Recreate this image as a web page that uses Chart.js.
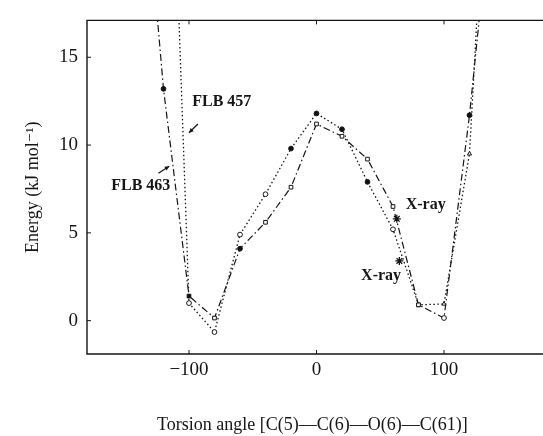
<!DOCTYPE html>
<html>
<head>
<meta charset="utf-8">
<script src="https://cdn.jsdelivr.net/npm/chart.js@4.4.0/dist/chart.umd.min.js"></script>
<style>
  html, body { margin: 0; padding: 0; background: #fff; overflow: hidden; }
  canvas { display: block; }
</style>
</head>
<body>
<canvas id="energyChart" width="543" height="436"></canvas>
<script>
// torsion angle steps (degrees)
const angles = [-140, -120, -100, -80, -60, -40, -20, 0, 20, 40, 60, 80, 100, 120, 140];
// energies in kJ/mol, null where the curve has no point
const flb457 = [null, 42, 1.0, -0.65, 4.9, 7.2, 9.8, 11.8, 10.9, 7.9, 5.2, 0.9, 0.95, 9.5, 36];
const flb463 = [30, 13.2, 1.4, 0.15, 4.1, 5.6, 7.6, 11.2, 10.5, 9.2, 6.5, 0.9, 0.15, 11.7, 26];
// X-ray structures
const xrayAngles = [63, 65];
const xrayEnergy = [5.8, 3.4];
const xTicks = [-100, 0, 100];
const yTicks = [0, 5, 10, 15];

// marker kinds per point: '' none, 'o' open circle, '.' filled circle, 's' open square, 'S' filled square, 't' open triangle
const markers457 = ['', '', 'o', 'o', 'o', 'o', '.', '.', '.', '.', 'o', 's', 't', 't', ''];
const markers463 = ['', '.', 'S', 's', '.', 's', 's', 's', 's', 's', 's', 's', 'o', '.', ''];

const notes = [
    { text: 'FLB 457', x: -97.5, y: 12.45 },
    { text: 'FLB 463', x: -161, y: 7.65 },
    { text: 'X-ray', x: 70, y: 6.6 },
    { text: 'X-ray', x: 35, y: 2.55 }
];
const arrows = [
    { from: [-93, 11.2], to: [-100, 10.7] },
    { from: [-124, 8.4], to: [-115.5, 8.8] }
];

function toPoints(ys) {
    const pts = [];
    ys.forEach((y, i) => {
        if (y !== null) pts.push({ x: angles[i], y: y, m: i });
    });
    return pts;
}

function markerStyle(list) {
    return {
        pointStyle: ctx => {
            const m = list[ctx.raw ? ctx.raw.m : 0];
            if (m === 's' || m === 'S') return 'rect';
            if (m === 't') return 'triangle';
            return 'circle';
        },
        pointRadius: ctx => {
            const m = list[ctx.raw ? ctx.raw.m : 0];
            if (!m) return 0;
            return m === 's' || m === 'S' ? 2.6 : 2.4;
        },
        pointBackgroundColor: ctx => {
            const m = list[ctx.raw ? ctx.raw.m : 0];
            return (m === '.' || m === 'S') ? '#111' : '#fff';
        }
    };
}

const ink = '#151515';
const serif = '"Liberation Serif", "DejaVu Serif", serif';

const framePlugin = {
    id: 'frame',
    afterDatasetsDraw(chart) {
        const { ctx, chartArea: a, scales } = chart;
        ctx.save();
        ctx.strokeStyle = ink;
        ctx.lineWidth = 1.4;
        ctx.beginPath();
        ctx.moveTo(chart.width, a.top);
        ctx.lineTo(a.left, a.top);
        ctx.lineTo(a.left, a.bottom);
        ctx.lineTo(chart.width, a.bottom);
        ctx.stroke();

        // small inward tick marks
        ctx.lineWidth = 1;
        ctx.beginPath();
        xTicks.forEach(v => {
            const px = scales.x.getPixelForValue(v);
            ctx.moveTo(px, a.bottom);
            ctx.lineTo(px, a.bottom - 4);
            ctx.moveTo(px, a.top);
            ctx.lineTo(px, a.top + 4);
        });
        yTicks.forEach(v => {
            const py = scales.y.getPixelForValue(v);
            ctx.moveTo(a.left, py);
            ctx.lineTo(a.left + 4, py);
        });
        ctx.stroke();

        // labels
        ctx.fillStyle = ink;
        ctx.font = 'bold 16px ' + serif;
        ctx.textBaseline = 'middle';
        ctx.textAlign = 'left';
        notes.forEach(n => {
            ctx.fillText(n.text, scales.x.getPixelForValue(n.x), scales.y.getPixelForValue(n.y));
        });

        // arrows
        ctx.lineWidth = 1.2;
        arrows.forEach(ar => {
            const x1 = scales.x.getPixelForValue(ar.from[0]);
            const y1 = scales.y.getPixelForValue(ar.from[1]);
            const x2 = scales.x.getPixelForValue(ar.to[0]);
            const y2 = scales.y.getPixelForValue(ar.to[1]);
            const ang = Math.atan2(y2 - y1, x2 - x1);
            ctx.beginPath();
            ctx.moveTo(x1, y1);
            ctx.lineTo(x2, y2);
            ctx.stroke();
            ctx.beginPath();
            ctx.moveTo(x2, y2);
            ctx.lineTo(x2 - 5 * Math.cos(ang - 0.45), y2 - 5 * Math.sin(ang - 0.45));
            ctx.lineTo(x2 - 5 * Math.cos(ang + 0.45), y2 - 5 * Math.sin(ang + 0.45));
            ctx.closePath();
            ctx.fill();
        });
        ctx.restore();
    }
};

new Chart(document.getElementById('energyChart').getContext('2d'), {
    type: 'line',
    data: {
        datasets: [
            Object.assign({
                label: 'FLB 457',
                data: toPoints(flb457),
                borderColor: ink,
                borderWidth: 1.3,
                borderDash: [1.5, 2.5],
                pointBorderColor: ink,
                pointBorderWidth: 1,
                tension: 0
            }, markerStyle(markers457)),
            Object.assign({
                label: 'FLB 463',
                data: toPoints(flb463),
                borderColor: ink,
                borderWidth: 1.2,
                borderDash: [7, 3, 1.5, 3],
                pointBorderColor: ink,
                pointBorderWidth: 1,
                tension: 0
            }, markerStyle(markers463)),
            {
                label: 'X-ray',
                data: xrayAngles.map((a, i) => ({ x: a, y: xrayEnergy[i] })),
                showLine: false,
                pointStyle: 'star',
                pointRadius: 4,
                pointBorderWidth: 1.3,
                pointBorderColor: ink,
                pointBackgroundColor: ink
            }
        ]
    },
    options: {
        responsive: false,
        animation: false,
        layout: { padding: { top: 12, right: 0, bottom: 0, left: 0 } },
        plugins: {
            legend: { display: false },
            tooltip: { enabled: false }
        },
        scales: {
            x: {
                type: 'linear',
                min: -180,
                max: 173.5,
                grid: { display: false, drawTicks: false },
                border: { display: false },
                afterBuildTicks: scale => { scale.ticks = xTicks.map(v => ({ value: v })); },
                afterFit: scale => { scale.height = 82; },
                ticks: {
                    color: ink,
                    padding: 5,
                    font: { family: serif, size: 19 },
                    callback: v => v < 0 ? '\u2212' + Math.abs(v) : String(v)
                },
                title: {
                    display: true,
                    text: 'Torsion angle [C(5)\u2014C(6)\u2014O(6)\u2014C(61)]',
                    color: ink,
                    font: { family: serif, size: 18 },
                    padding: { top: 0, bottom: 0 }
                }
            },
            y: {
                min: -1.9,
                max: 17.1,
                grid: { display: false, drawTicks: false },
                border: { display: false },
                afterBuildTicks: scale => { scale.ticks = yTicks.map(v => ({ value: v })); },
                afterFit: scale => { scale.width = 87; },
                ticks: {
                    color: ink,
                    padding: 9,
                    font: { family: serif, size: 19 }
                },
                title: {
                    display: true,
                    text: 'Energy (kJ mol\u207B\u00B9)',
                    color: ink,
                    font: { family: serif, size: 18 },
                    padding: { top: 22, bottom: 0 }
                }
            }
        }
    },
    plugins: [framePlugin]
});
</script>
</body>
</html>
